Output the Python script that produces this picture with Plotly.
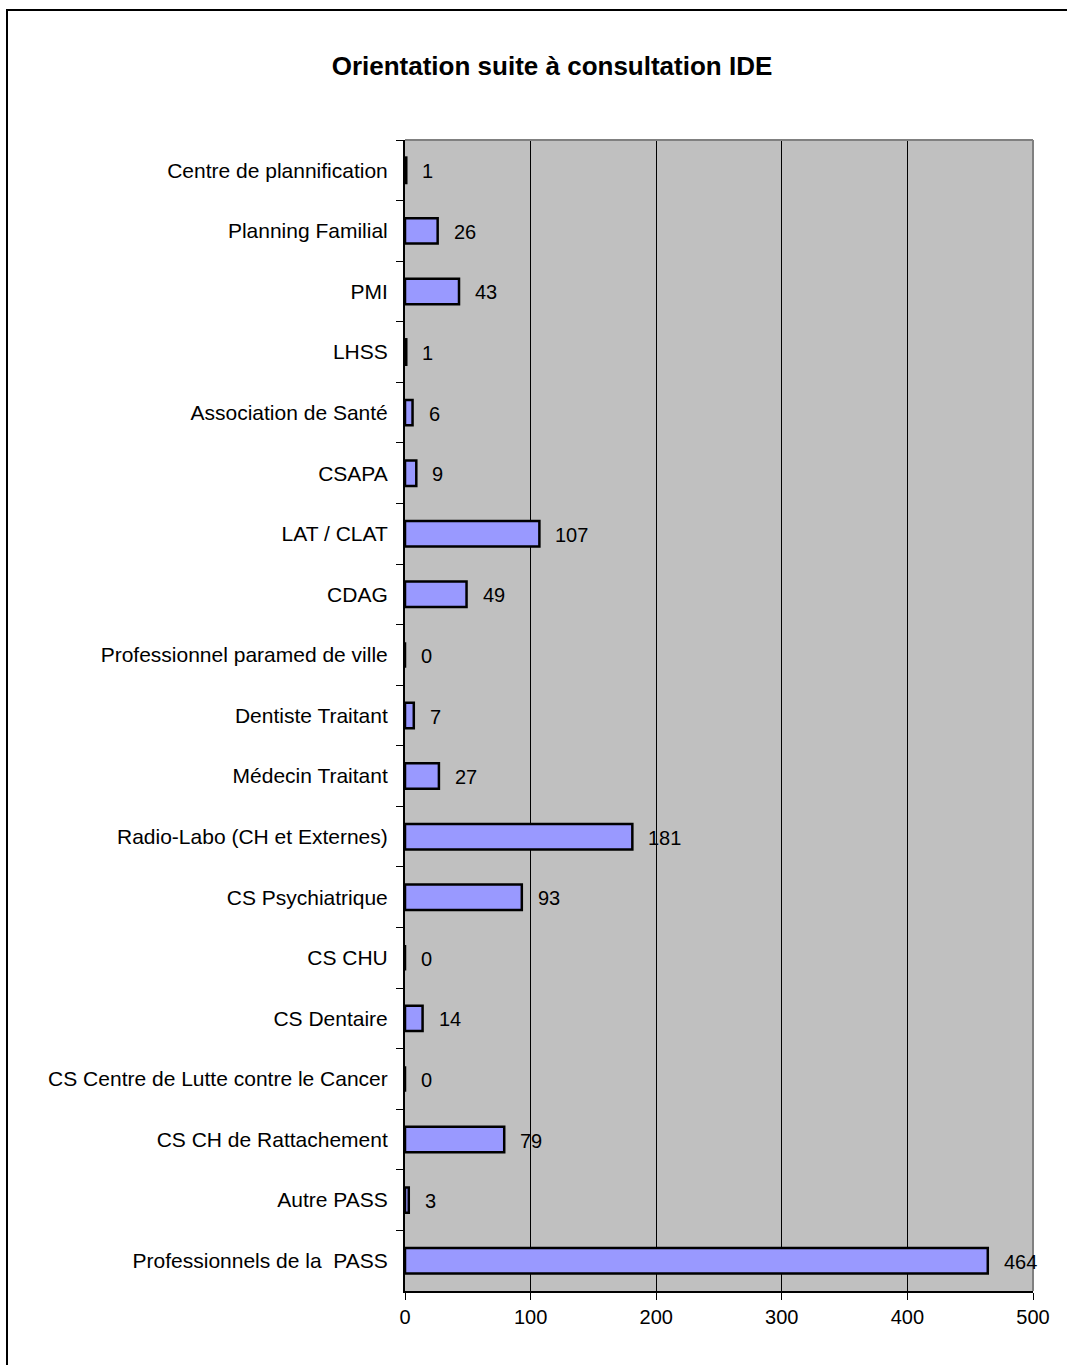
import plotly.graph_objects as go

# Orientation categories (top to bottom as displayed) and counts
categories = [
    "Centre de plannification",
    "Planning Familial",
    "PMI",
    "LHSS",
    "Association de Santé",
    "CSAPA",
    "LAT / CLAT",
    "CDAG",
    "Professionnel paramed de ville",
    "Dentiste Traitant",
    "Médecin Traitant",
    "Radio-Labo (CH et Externes)",
    "CS Psychiatrique",
    "CS CHU",
    "CS Dentaire",
    "CS Centre de Lutte contre le Cancer",
    "CS CH de Rattachement",
    "Autre PASS",
    "Professionnels de la  PASS",
]
counts = [1, 26, 43, 1, 6, 9, 107, 49, 0, 7, 27, 181, 93, 0, 14, 0, 79, 3, 464]
x_ticks = [0, 100, 200, 300, 400, 500]

FONT = "Liberation Sans, Arial, sans-serif"

fig = go.Figure()
fig.add_trace(go.Bar(
    y=categories,
    x=counts,
    orientation="h",
    marker=dict(color="#9999FF", line=dict(color="black", width=2.5)),
    width=0.42,
    hoverinfo="x+y",
))

# value labels to the right of each bar
for cat, v in zip(categories, counts):
    fig.add_annotation(
        x=v, y=cat, xref="x", yref="y",
        text=str(v), showarrow=False,
        xanchor="left", yanchor="middle", xshift=14, yshift=-1,
        font=dict(family=FONT, size=20, color="black"),
    )

L, T, R, B = 405, 140, 34, 74
W, H = 1067, 1365
pw, ph = W - L - R, H - T - B

# outer frame of the chart
fig.add_shape(
    type="rect", xref="paper", yref="paper",
    x0=(7 - L) / pw, x1=(1080 - L) / pw,
    y0=(H - B - 1380) / ph, y1=(H - B - 10) / ph,
    line=dict(color="black", width=2), fillcolor="rgba(0,0,0,0)", layer="below",
)
# top and right edges of the plotting area
fig.add_shape(type="line", xref="paper", yref="paper", x0=0, x1=1, y0=1, y1=1,
              line=dict(color="#808080", width=2))
fig.add_shape(type="line", xref="paper", yref="paper", x0=1, x1=1, y0=0, y1=1,
              line=dict(color="#808080", width=2))

fig.update_layout(
    width=W, height=H,
    margin=dict(l=L, r=R, t=T, b=B),
    paper_bgcolor="white",
    plot_bgcolor="#C0C0C0",
    showlegend=False,
    bargap=0.58,
    title=dict(
        text="<b>Orientation suite à consultation IDE</b>",
        x=552 / W, xanchor="center", y=1 - 66 / H, yanchor="middle",
        font=dict(family=FONT, size=26, color="black"),
    ),
    font=dict(family=FONT, size=21, color="black"),
)

fig.update_xaxes(
    range=[0, 500], tickvals=x_ticks, ticktext=[str(t) for t in x_ticks],
    showgrid=True, gridcolor="black", gridwidth=1,
    ticks="outside", ticklen=7, tickcolor="black", tickwidth=1,
    showline=True, linecolor="black", linewidth=2,
    zeroline=False, fixedrange=True,
    tickfont=dict(family=FONT, size=20, color="black"),
)
fig.update_yaxes(
    categoryorder="array", categoryarray=categories, autorange="reversed",
    tickson="boundaries", ticks="outside", ticklen=7, tickcolor="black", tickwidth=1,
    showline=True, linecolor="black", linewidth=2,
    showgrid=False, zeroline=False, fixedrange=True,
    ticklabelstandoff=11,
    tickfont=dict(family=FONT, size=21, color="black"),
)

fig.write_html("out.html")
